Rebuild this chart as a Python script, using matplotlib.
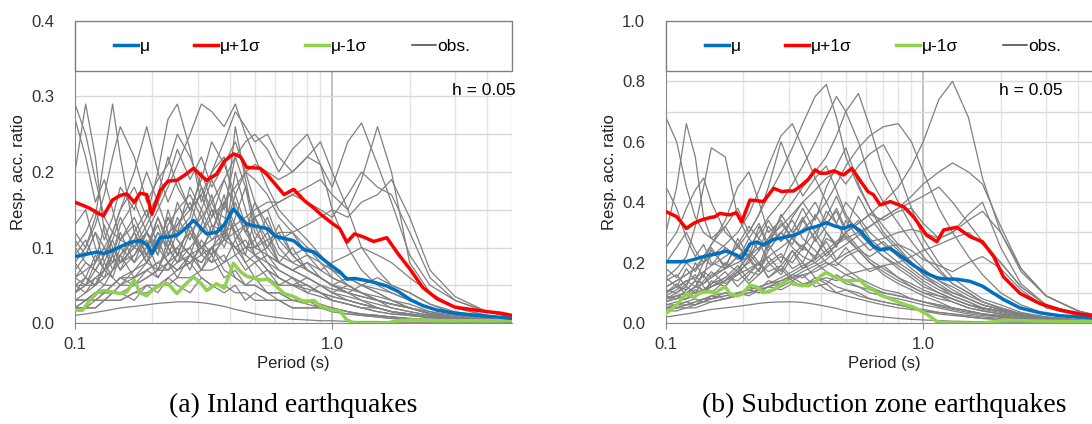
import matplotlib.pyplot as plt
from matplotlib.lines import Line2D
from matplotlib.patches import Rectangle
from matplotlib.ticker import FixedLocator, NullFormatter, MultipleLocator, FormatStrFormatter

plt.rcParams['font.family'] = ['Liberation Sans', 'DejaVu Sans']

# periods (s) for the observed records
t_obs = [0.10, 0.11, 0.12, 0.13, 0.14, 0.15, 0.17, 0.19, 0.21, 0.23, 0.25, 0.28, 0.31,
         0.34, 0.38, 0.42, 0.46, 0.50, 0.56, 0.62, 0.70, 0.80, 0.90, 1.0, 1.15, 1.3,
         1.5, 1.7, 2.0, 2.4, 3.0, 4.0, 5.0]

obs_a = [
    [0.29, 0.25, 0.19, 0.14, 0.12, 0.11, 0.10, 0.09, 0.10, 0.08, 0.07, 0.08, 0.06, 0.05, 0.05, 0.04, 0.04, 0.03, 0.03, 0.03, 0.02, 0.02, 0.02, 0.015, 0.012, 0.01, 0.008, 0.006, 0.005, 0.004, 0.003, 0.002, 0.002],
    [0.20, 0.29, 0.22, 0.12, 0.09, 0.13, 0.16, 0.12, 0.10, 0.14, 0.11, 0.09, 0.08, 0.10, 0.07, 0.06, 0.05, 0.06, 0.04, 0.04, 0.03, 0.03, 0.02, 0.02, 0.015, 0.012, 0.01, 0.008, 0.006, 0.005, 0.004, 0.003, 0.002],
    [0.12, 0.10, 0.14, 0.22, 0.29, 0.22, 0.12, 0.15, 0.10, 0.12, 0.09, 0.13, 0.10, 0.08, 0.09, 0.06, 0.05, 0.05, 0.04, 0.03, 0.03, 0.025, 0.02, 0.02, 0.015, 0.01, 0.01, 0.008, 0.006, 0.005, 0.004, 0.003, 0.002],
    [0.08, 0.10, 0.13, 0.17, 0.22, 0.26, 0.22, 0.16, 0.19, 0.21, 0.25, 0.22, 0.18, 0.15, 0.14, 0.12, 0.10, 0.11, 0.08, 0.07, 0.06, 0.05, 0.04, 0.035, 0.03, 0.025, 0.02, 0.015, 0.01, 0.008, 0.005, 0.003, 0.002],
    [0.06, 0.07, 0.08, 0.10, 0.12, 0.15, 0.20, 0.26, 0.20, 0.16, 0.19, 0.15, 0.17, 0.13, 0.12, 0.10, 0.11, 0.09, 0.08, 0.06, 0.05, 0.05, 0.04, 0.03, 0.025, 0.02, 0.015, 0.012, 0.01, 0.007, 0.005, 0.003, 0.002],
    [0.05, 0.05, 0.06, 0.07, 0.08, 0.09, 0.11, 0.14, 0.20, 0.27, 0.29, 0.23, 0.16, 0.20, 0.22, 0.15, 0.12, 0.10, 0.09, 0.08, 0.07, 0.06, 0.05, 0.04, 0.035, 0.03, 0.02, 0.015, 0.012, 0.008, 0.005, 0.003, 0.002],
    [0.04, 0.05, 0.05, 0.06, 0.07, 0.08, 0.10, 0.12, 0.15, 0.18, 0.21, 0.25, 0.29, 0.28, 0.26, 0.29, 0.25, 0.22, 0.18, 0.15, 0.13, 0.11, 0.09, 0.07, 0.05, 0.04, 0.03, 0.025, 0.02, 0.012, 0.008, 0.004, 0.003],
    [0.03, 0.03, 0.04, 0.04, 0.05, 0.06, 0.07, 0.08, 0.10, 0.12, 0.13, 0.15, 0.17, 0.20, 0.24, 0.28, 0.26, 0.24, 0.25, 0.22, 0.20, 0.22, 0.24, 0.20, 0.15, 0.10, 0.07, 0.05, 0.04, 0.025, 0.015, 0.008, 0.005],
    [0.03, 0.03, 0.03, 0.03, 0.04, 0.04, 0.05, 0.06, 0.07, 0.08, 0.09, 0.10, 0.12, 0.14, 0.16, 0.18, 0.20, 0.21, 0.20, 0.19, 0.20, 0.22, 0.21, 0.18, 0.24, 0.265, 0.21, 0.16, 0.09, 0.05, 0.03, 0.015, 0.008],
    [0.02, 0.02, 0.02, 0.03, 0.03, 0.03, 0.04, 0.05, 0.05, 0.06, 0.07, 0.08, 0.09, 0.10, 0.11, 0.12, 0.13, 0.14, 0.15, 0.16, 0.17, 0.18, 0.19, 0.17, 0.15, 0.19, 0.26, 0.20, 0.08, 0.04, 0.02, 0.01, 0.006],
    [0.03, 0.03, 0.03, 0.04, 0.04, 0.05, 0.05, 0.06, 0.07, 0.07, 0.08, 0.09, 0.10, 0.11, 0.12, 0.13, 0.14, 0.15, 0.16, 0.16, 0.17, 0.16, 0.15, 0.14, 0.17, 0.20, 0.18, 0.17, 0.12, 0.06, 0.03, 0.015, 0.008],
    [0.02, 0.02, 0.02, 0.03, 0.03, 0.03, 0.04, 0.04, 0.05, 0.05, 0.06, 0.06, 0.07, 0.07, 0.08, 0.09, 0.10, 0.10, 0.11, 0.12, 0.12, 0.13, 0.14, 0.15, 0.14, 0.16, 0.17, 0.19, 0.14, 0.07, 0.035, 0.015, 0.008],
    [0.10, 0.08, 0.07, 0.09, 0.11, 0.08, 0.10, 0.12, 0.09, 0.13, 0.15, 0.17, 0.14, 0.11, 0.13, 0.09, 0.07, 0.08, 0.06, 0.05, 0.05, 0.04, 0.035, 0.03, 0.025, 0.02, 0.015, 0.012, 0.01, 0.007, 0.005, 0.003, 0.002],
    [0.07, 0.09, 0.12, 0.10, 0.08, 0.11, 0.14, 0.10, 0.13, 0.09, 0.12, 0.14, 0.20, 0.16, 0.12, 0.17, 0.13, 0.10, 0.12, 0.08, 0.07, 0.06, 0.05, 0.04, 0.03, 0.025, 0.02, 0.015, 0.012, 0.008, 0.005, 0.003, 0.002],
    [0.04, 0.05, 0.07, 0.06, 0.09, 0.07, 0.11, 0.08, 0.12, 0.10, 0.14, 0.11, 0.15, 0.19, 0.15, 0.22, 0.18, 0.14, 0.15, 0.11, 0.09, 0.07, 0.06, 0.05, 0.04, 0.035, 0.03, 0.02, 0.015, 0.01, 0.006, 0.004, 0.002],
    [0.09, 0.11, 0.08, 0.13, 0.10, 0.08, 0.09, 0.11, 0.07, 0.10, 0.08, 0.12, 0.09, 0.13, 0.10, 0.14, 0.18, 0.12, 0.10, 0.13, 0.09, 0.07, 0.06, 0.05, 0.06, 0.05, 0.04, 0.03, 0.02, 0.012, 0.007, 0.004, 0.002],
    [0.03, 0.04, 0.05, 0.07, 0.06, 0.05, 0.07, 0.09, 0.06, 0.08, 0.10, 0.07, 0.11, 0.09, 0.16, 0.12, 0.09, 0.14, 0.11, 0.08, 0.10, 0.07, 0.06, 0.05, 0.045, 0.04, 0.035, 0.03, 0.02, 0.012, 0.007, 0.004, 0.002],
    [0.02, 0.02, 0.03, 0.03, 0.04, 0.04, 0.03, 0.05, 0.04, 0.06, 0.05, 0.04, 0.06, 0.05, 0.04, 0.05, 0.03, 0.04, 0.03, 0.03, 0.02, 0.02, 0.02, 0.015, 0.012, 0.01, 0.008, 0.006, 0.005, 0.004, 0.003, 0.002, 0.001],
    [0.01, 0.012, 0.014, 0.016, 0.018, 0.02, 0.022, 0.024, 0.026, 0.027, 0.028, 0.028, 0.027, 0.025, 0.022, 0.018, 0.015, 0.012, 0.009, 0.007, 0.005, 0.004, 0.003, 0.003, 0.002, 0.002, 0.002, 0.001, 0.001, 0.001, 0.001, 0.0, 0.0],
    [0.05, 0.04, 0.06, 0.05, 0.07, 0.09, 0.06, 0.08, 0.11, 0.08, 0.06, 0.09, 0.07, 0.10, 0.08, 0.11, 0.08, 0.06, 0.07, 0.05, 0.06, 0.04, 0.05, 0.04, 0.05, 0.04, 0.03, 0.025, 0.02, 0.015, 0.01, 0.005, 0.003],
    [0.13, 0.15, 0.10, 0.07, 0.09, 0.12, 0.08, 0.10, 0.14, 0.11, 0.16, 0.12, 0.10, 0.12, 0.17, 0.11, 0.13, 0.09, 0.10, 0.08, 0.07, 0.08, 0.06, 0.05, 0.04, 0.03, 0.025, 0.02, 0.015, 0.01, 0.006, 0.004, 0.002],
    [0.03, 0.03, 0.04, 0.05, 0.05, 0.06, 0.06, 0.07, 0.08, 0.07, 0.09, 0.08, 0.10, 0.09, 0.11, 0.10, 0.09, 0.08, 0.09, 0.08, 0.07, 0.08, 0.07, 0.08, 0.09, 0.10, 0.09, 0.08, 0.06, 0.04, 0.02, 0.01, 0.005],
    [0.02, 0.03, 0.03, 0.04, 0.04, 0.05, 0.06, 0.07, 0.08, 0.09, 0.10, 0.12, 0.14, 0.16, 0.19, 0.22, 0.24, 0.25, 0.23, 0.20, 0.23, 0.25, 0.21, 0.15, 0.10, 0.07, 0.05, 0.04, 0.03, 0.02, 0.012, 0.006, 0.003],
    [0.06, 0.08, 0.07, 0.09, 0.12, 0.15, 0.18, 0.14, 0.17, 0.22, 0.18, 0.15, 0.19, 0.24, 0.21, 0.17, 0.20, 0.16, 0.13, 0.11, 0.12, 0.09, 0.08, 0.06, 0.05, 0.04, 0.03, 0.025, 0.02, 0.012, 0.007, 0.004, 0.002],
    [0.27, 0.22, 0.16, 0.19, 0.15, 0.11, 0.13, 0.09, 0.12, 0.10, 0.08, 0.10, 0.07, 0.09, 0.06, 0.07, 0.05, 0.05, 0.04, 0.04, 0.03, 0.03, 0.025, 0.02, 0.015, 0.012, 0.01, 0.008, 0.006, 0.004, 0.003, 0.002, 0.001],
    [0.05, 0.06, 0.05, 0.07, 0.09, 0.07, 0.09, 0.12, 0.10, 0.14, 0.12, 0.18, 0.15, 0.12, 0.16, 0.13, 0.10, 0.09, 0.07, 0.06, 0.05, 0.045, 0.04, 0.035, 0.03, 0.025, 0.02, 0.015, 0.012, 0.008, 0.005, 0.003, 0.002],
    [0.11, 0.09, 0.12, 0.08, 0.11, 0.14, 0.10, 0.13, 0.16, 0.12, 0.09, 0.13, 0.18, 0.14, 0.19, 0.15, 0.12, 0.16, 0.12, 0.09, 0.08, 0.07, 0.06, 0.05, 0.04, 0.035, 0.03, 0.025, 0.02, 0.013, 0.008, 0.004, 0.002],
    [0.06, 0.05, 0.08, 0.10, 0.07, 0.10, 0.08, 0.12, 0.09, 0.15, 0.11, 0.09, 0.13, 0.17, 0.11, 0.20, 0.15, 0.11, 0.14, 0.10, 0.08, 0.09, 0.07, 0.06, 0.05, 0.04, 0.03, 0.025, 0.02, 0.012, 0.007, 0.004, 0.002],
    [0.04, 0.06, 0.05, 0.08, 0.06, 0.09, 0.12, 0.08, 0.07, 0.11, 0.09, 0.13, 0.09, 0.08, 0.12, 0.26, 0.19, 0.13, 0.09, 0.07, 0.06, 0.05, 0.04, 0.03, 0.025, 0.02, 0.02, 0.015, 0.012, 0.008, 0.005, 0.003, 0.002],
    [0.08, 0.06, 0.09, 0.07, 0.10, 0.08, 0.12, 0.09, 0.14, 0.10, 0.13, 0.16, 0.12, 0.15, 0.11, 0.16, 0.12, 0.14, 0.10, 0.12, 0.09, 0.10, 0.08, 0.07, 0.06, 0.05, 0.045, 0.04, 0.03, 0.02, 0.01, 0.005, 0.003],
    [0.02, 0.03, 0.04, 0.04, 0.05, 0.06, 0.05, 0.07, 0.06, 0.08, 0.07, 0.09, 0.08, 0.10, 0.12, 0.10, 0.08, 0.09, 0.07, 0.06, 0.05, 0.06, 0.05, 0.045, 0.04, 0.05, 0.06, 0.05, 0.04, 0.025, 0.012, 0.006, 0.003],
    [0.10, 0.12, 0.15, 0.11, 0.14, 0.18, 0.15, 0.20, 0.16, 0.19, 0.23, 0.19, 0.22, 0.18, 0.21, 0.24, 0.20, 0.19, 0.17, 0.14, 0.12, 0.10, 0.09, 0.07, 0.06, 0.05, 0.04, 0.03, 0.025, 0.015, 0.008, 0.004, 0.002],
]

# (b) subduction zone earthquakes, observed spectra
obs_b = [
    [0.68, 0.60, 0.45, 0.35, 0.30, 0.28, 0.25, 0.22, 0.24, 0.20, 0.17, 0.19, 0.15, 0.13, 0.14, 0.11, 0.10, 0.09, 0.08, 0.07, 0.06, 0.05, 0.045, 0.04, 0.03, 0.025, 0.02, 0.015, 0.012, 0.008, 0.005, 0.003, 0.002],
    [0.30, 0.45, 0.66, 0.55, 0.35, 0.28, 0.32, 0.25, 0.22, 0.27, 0.20, 0.23, 0.18, 0.20, 0.15, 0.14, 0.12, 0.11, 0.10, 0.08, 0.07, 0.06, 0.05, 0.045, 0.035, 0.03, 0.02, 0.015, 0.012, 0.008, 0.005, 0.003, 0.002],
    [0.15, 0.18, 0.22, 0.32, 0.45, 0.58, 0.55, 0.35, 0.28, 0.33, 0.26, 0.30, 0.25, 0.22, 0.20, 0.17, 0.15, 0.13, 0.12, 0.10, 0.09, 0.08, 0.07, 0.06, 0.05, 0.04, 0.03, 0.025, 0.02, 0.012, 0.008, 0.004, 0.002],
    [0.10, 0.12, 0.14, 0.15, 0.17, 0.19, 0.22, 0.25, 0.30, 0.36, 0.42, 0.50, 0.58, 0.66, 0.75, 0.79, 0.68, 0.55, 0.45, 0.38, 0.30, 0.25, 0.20, 0.16, 0.12, 0.09, 0.07, 0.05, 0.04, 0.025, 0.015, 0.008, 0.005],
    [0.08, 0.09, 0.10, 0.12, 0.13, 0.15, 0.18, 0.22, 0.25, 0.30, 0.35, 0.40, 0.46, 0.52, 0.60, 0.68, 0.75, 0.70, 0.60, 0.48, 0.40, 0.33, 0.27, 0.22, 0.17, 0.13, 0.10, 0.07, 0.05, 0.03, 0.02, 0.01, 0.006],
    [0.06, 0.07, 0.08, 0.09, 0.10, 0.12, 0.14, 0.17, 0.20, 0.24, 0.28, 0.35, 0.40, 0.45, 0.50, 0.55, 0.62, 0.70, 0.76, 0.65, 0.50, 0.40, 0.32, 0.25, 0.18, 0.13, 0.10, 0.07, 0.05, 0.03, 0.02, 0.01, 0.006],
    [0.05, 0.05, 0.06, 0.06, 0.07, 0.08, 0.09, 0.10, 0.11, 0.12, 0.13, 0.15, 0.17, 0.19, 0.21, 0.24, 0.27, 0.30, 0.33, 0.36, 0.40, 0.45, 0.52, 0.60, 0.74, 0.80, 0.68, 0.48, 0.30, 0.17, 0.09, 0.04, 0.02],
    [0.07, 0.08, 0.09, 0.10, 0.11, 0.12, 0.14, 0.16, 0.18, 0.20, 0.22, 0.25, 0.28, 0.31, 0.35, 0.40, 0.46, 0.52, 0.58, 0.62, 0.65, 0.66, 0.60, 0.50, 0.38, 0.30, 0.22, 0.16, 0.10, 0.06, 0.03, 0.015, 0.008],
    [0.04, 0.04, 0.05, 0.05, 0.06, 0.07, 0.08, 0.09, 0.10, 0.11, 0.12, 0.14, 0.16, 0.18, 0.20, 0.23, 0.26, 0.28, 0.30, 0.32, 0.35, 0.38, 0.42, 0.46, 0.50, 0.53, 0.50, 0.46, 0.32, 0.18, 0.09, 0.04, 0.02],
    [0.10, 0.12, 0.11, 0.14, 0.13, 0.16, 0.18, 0.20, 0.22, 0.25, 0.28, 0.32, 0.36, 0.40, 0.44, 0.48, 0.50, 0.46, 0.52, 0.56, 0.59, 0.50, 0.38, 0.28, 0.20, 0.15, 0.11, 0.08, 0.06, 0.035, 0.02, 0.01, 0.005],
    [0.12, 0.14, 0.16, 0.18, 0.20, 0.22, 0.26, 0.30, 0.36, 0.44, 0.52, 0.62, 0.66, 0.58, 0.48, 0.40, 0.33, 0.28, 0.24, 0.20, 0.16, 0.13, 0.11, 0.09, 0.07, 0.05, 0.04, 0.03, 0.02, 0.012, 0.007, 0.004, 0.002],
    [0.20, 0.25, 0.30, 0.24, 0.20, 0.26, 0.32, 0.38, 0.30, 0.36, 0.45, 0.60, 0.50, 0.42, 0.48, 0.52, 0.44, 0.36, 0.30, 0.26, 0.22, 0.18, 0.15, 0.12, 0.10, 0.08, 0.06, 0.045, 0.035, 0.02, 0.012, 0.006, 0.003],
    [0.18, 0.15, 0.20, 0.17, 0.22, 0.19, 0.25, 0.21, 0.28, 0.24, 0.32, 0.27, 0.35, 0.40, 0.34, 0.45, 0.52, 0.58, 0.46, 0.38, 0.32, 0.26, 0.22, 0.18, 0.14, 0.11, 0.08, 0.06, 0.045, 0.03, 0.018, 0.008, 0.004],
    [0.10, 0.13, 0.09, 0.12, 0.16, 0.12, 0.15, 0.19, 0.14, 0.18, 0.22, 0.17, 0.24, 0.20, 0.28, 0.22, 0.26, 0.30, 0.25, 0.21, 0.18, 0.15, 0.12, 0.10, 0.09, 0.07, 0.05, 0.04, 0.03, 0.02, 0.012, 0.006, 0.003],
    [0.08, 0.10, 0.12, 0.10, 0.14, 0.17, 0.13, 0.16, 0.21, 0.17, 0.24, 0.30, 0.26, 0.34, 0.28, 0.37, 0.33, 0.40, 0.35, 0.30, 0.26, 0.22, 0.20, 0.17, 0.14, 0.12, 0.09, 0.07, 0.05, 0.03, 0.018, 0.008, 0.004],
    [0.05, 0.06, 0.07, 0.06, 0.08, 0.09, 0.08, 0.10, 0.09, 0.11, 0.10, 0.12, 0.14, 0.12, 0.15, 0.13, 0.16, 0.14, 0.12, 0.11, 0.10, 0.09, 0.08, 0.07, 0.06, 0.05, 0.04, 0.03, 0.025, 0.015, 0.01, 0.005, 0.003],
    [0.02, 0.025, 0.03, 0.035, 0.04, 0.045, 0.05, 0.055, 0.06, 0.065, 0.068, 0.07, 0.07, 0.068, 0.062, 0.055, 0.048, 0.04, 0.032, 0.025, 0.02, 0.015, 0.012, 0.01, 0.008, 0.006, 0.005, 0.004, 0.003, 0.002, 0.001, 0.001, 0.0],
    [0.06, 0.06, 0.07, 0.08, 0.07, 0.09, 0.10, 0.09, 0.11, 0.10, 0.12, 0.11, 0.13, 0.12, 0.14, 0.15, 0.14, 0.16, 0.17, 0.18, 0.19, 0.20, 0.22, 0.24, 0.26, 0.28, 0.30, 0.26, 0.20, 0.12, 0.06, 0.03, 0.015],
    [0.04, 0.05, 0.05, 0.06, 0.07, 0.07, 0.08, 0.09, 0.10, 0.11, 0.12, 0.13, 0.15, 0.17, 0.19, 0.21, 0.24, 0.26, 0.29, 0.32, 0.35, 0.38, 0.40, 0.42, 0.45, 0.40, 0.33, 0.27, 0.20, 0.12, 0.06, 0.03, 0.015],
    [0.08, 0.09, 0.10, 0.12, 0.11, 0.13, 0.15, 0.14, 0.17, 0.16, 0.19, 0.22, 0.20, 0.25, 0.22, 0.28, 0.26, 0.30, 0.33, 0.36, 0.34, 0.37, 0.38, 0.33, 0.28, 0.30, 0.36, 0.40, 0.25, 0.13, 0.06, 0.03, 0.015],
    [0.14, 0.16, 0.12, 0.20, 0.15, 0.25, 0.18, 0.28, 0.22, 0.32, 0.25, 0.36, 0.30, 0.34, 0.40, 0.33, 0.37, 0.30, 0.34, 0.28, 0.24, 0.20, 0.17, 0.14, 0.11, 0.09, 0.07, 0.05, 0.04, 0.025, 0.015, 0.008, 0.004],
    [0.09, 0.08, 0.11, 0.14, 0.10, 0.13, 0.17, 0.12, 0.16, 0.20, 0.15, 0.19, 0.24, 0.18, 0.22, 0.27, 0.21, 0.25, 0.20, 0.17, 0.19, 0.15, 0.13, 0.11, 0.09, 0.08, 0.06, 0.05, 0.04, 0.025, 0.015, 0.008, 0.004],
    [0.45, 0.38, 0.28, 0.22, 0.26, 0.20, 0.18, 0.22, 0.17, 0.20, 0.15, 0.18, 0.14, 0.16, 0.12, 0.13, 0.10, 0.11, 0.09, 0.08, 0.07, 0.06, 0.05, 0.04, 0.035, 0.03, 0.025, 0.02, 0.015, 0.01, 0.006, 0.003, 0.002],
    [0.12, 0.14, 0.16, 0.18, 0.22, 0.26, 0.34, 0.45, 0.50, 0.40, 0.30, 0.34, 0.28, 0.25, 0.30, 0.24, 0.20, 0.18, 0.15, 0.13, 0.11, 0.10, 0.08, 0.07, 0.06, 0.05, 0.04, 0.03, 0.025, 0.015, 0.01, 0.005, 0.003],
    [0.25, 0.30, 0.38, 0.44, 0.48, 0.40, 0.30, 0.26, 0.32, 0.28, 0.24, 0.30, 0.34, 0.28, 0.24, 0.20, 0.18, 0.16, 0.14, 0.12, 0.10, 0.09, 0.08, 0.07, 0.055, 0.045, 0.035, 0.03, 0.02, 0.012, 0.008, 0.004, 0.002],
    [0.05, 0.05, 0.06, 0.07, 0.08, 0.08, 0.09, 0.10, 0.11, 0.12, 0.13, 0.14, 0.15, 0.16, 0.17, 0.19, 0.21, 0.23, 0.25, 0.27, 0.28, 0.30, 0.31, 0.30, 0.28, 0.30, 0.34, 0.37, 0.30, 0.18, 0.09, 0.04, 0.02],
    [0.15, 0.12, 0.18, 0.14, 0.20, 0.24, 0.19, 0.26, 0.21, 0.28, 0.34, 0.27, 0.31, 0.38, 0.30, 0.35, 0.42, 0.35, 0.30, 0.26, 0.22, 0.19, 0.16, 0.13, 0.10, 0.08, 0.06, 0.05, 0.04, 0.025, 0.015, 0.008, 0.004],
    [0.07, 0.09, 0.08, 0.11, 0.10, 0.14, 0.12, 0.17, 0.13, 0.16, 0.20, 0.16, 0.22, 0.26, 0.21, 0.30, 0.25, 0.34, 0.28, 0.24, 0.27, 0.22, 0.18, 0.15, 0.12, 0.10, 0.08, 0.06, 0.045, 0.03, 0.018, 0.008, 0.004],
    [0.11, 0.10, 0.13, 0.16, 0.12, 0.10, 0.14, 0.18, 0.22, 0.17, 0.26, 0.20, 0.29, 0.35, 0.27, 0.32, 0.38, 0.31, 0.42, 0.35, 0.29, 0.24, 0.20, 0.16, 0.13, 0.10, 0.08, 0.06, 0.045, 0.03, 0.018, 0.008, 0.004],
    [0.05, 0.06, 0.06, 0.07, 0.08, 0.08, 0.10, 0.09, 0.12, 0.11, 0.14, 0.13, 0.16, 0.15, 0.18, 0.20, 0.19, 0.22, 0.24, 0.22, 0.25, 0.26, 0.24, 0.21, 0.19, 0.17, 0.20, 0.22, 0.18, 0.11, 0.05, 0.025, 0.012],
    [0.09, 0.11, 0.14, 0.12, 0.17, 0.15, 0.20, 0.17, 0.23, 0.19, 0.27, 0.33, 0.28, 0.24, 0.36, 0.30, 0.26, 0.29, 0.24, 0.20, 0.17, 0.14, 0.12, 0.10, 0.08, 0.07, 0.05, 0.04, 0.03, 0.02, 0.012, 0.006, 0.003],
]

# statistics, panel (a)
t_stat_a = [0.100, 0.107, 0.114, 0.122, 0.129, 0.140, 0.150, 0.159, 0.170, 0.179, 0.190, 0.199,
            0.214, 0.230, 0.249, 0.270, 0.289, 0.310, 0.325, 0.355, 0.380, 0.413, 0.440, 0.465,
            0.524, 0.560, 0.600, 0.650, 0.708, 0.780, 0.850, 0.902, 1.00, 1.07, 1.14, 1.22,
            1.32, 1.45, 1.63, 1.80, 2.01, 2.25, 2.56, 3.00, 3.45, 4.00, 4.53, 5.00]
mu_a = [0.088, 0.090, 0.092, 0.094, 0.092, 0.096, 0.101, 0.105, 0.108, 0.109, 0.104, 0.092,
        0.113, 0.114, 0.116, 0.126, 0.136, 0.125, 0.118, 0.120, 0.130, 0.151, 0.140, 0.131,
        0.127, 0.125, 0.115, 0.112, 0.109, 0.097, 0.094, 0.087, 0.075, 0.068, 0.058, 0.059,
        0.057, 0.054, 0.049, 0.042, 0.031, 0.023, 0.017, 0.013, 0.011, 0.009, 0.0075, 0.006]
mu_p_a = [0.160, 0.156, 0.152, 0.146, 0.142, 0.163, 0.169, 0.171, 0.160, 0.172, 0.170, 0.144,
          0.175, 0.188, 0.189, 0.197, 0.205, 0.195, 0.189, 0.197, 0.214, 0.224, 0.220, 0.206,
          0.205, 0.196, 0.184, 0.170, 0.177, 0.162, 0.152, 0.144, 0.132, 0.125, 0.107, 0.118,
          0.114, 0.108, 0.113, 0.092, 0.071, 0.047, 0.032, 0.021, 0.018, 0.015, 0.013, 0.010]
mu_m_a = [0.017, 0.017, 0.030, 0.040, 0.043, 0.041, 0.039, 0.041, 0.057, 0.040, 0.036, 0.043,
          0.050, 0.052, 0.039, 0.052, 0.061, 0.052, 0.043, 0.052, 0.046, 0.079, 0.068, 0.062,
          0.057, 0.058, 0.050, 0.039, 0.035, 0.028, 0.030, 0.022, 0.017, 0.016, 0.004, 0.0,
          0.0, 0.0, 0.0, 0.003, 0.004, 0.004, 0.003, 0.003, 0.003, 0.003, 0.003, 0.003]

# statistics, panel (b)
t_stat_b = [0.100, 0.110, 0.120, 0.128, 0.136, 0.148, 0.155, 0.162, 0.170, 0.177, 0.188, 0.197,
            0.212, 0.225, 0.239, 0.262, 0.282, 0.295, 0.313, 0.330, 0.357, 0.380, 0.398, 0.420,
            0.450, 0.490, 0.528, 0.570, 0.610, 0.640, 0.680, 0.745, 0.840, 0.920, 1.03, 1.13,
            1.20, 1.35, 1.52, 1.70, 1.88, 2.05, 2.38, 2.83, 3.40, 4.20, 5.00]
mu_b = [0.203, 0.203, 0.204, 0.210, 0.217, 0.225, 0.228, 0.232, 0.238, 0.234, 0.225, 0.214,
        0.262, 0.268, 0.258, 0.277, 0.282, 0.286, 0.290, 0.298, 0.313, 0.318, 0.324, 0.332,
        0.322, 0.313, 0.324, 0.305, 0.275, 0.255, 0.242, 0.247, 0.215, 0.190, 0.164, 0.150,
        0.146, 0.145, 0.138, 0.122, 0.098, 0.078, 0.050, 0.034, 0.024, 0.019, 0.015]
mu_p_b = [0.369, 0.352, 0.313, 0.330, 0.340, 0.349, 0.352, 0.363, 0.360, 0.358, 0.365, 0.335,
          0.407, 0.405, 0.402, 0.446, 0.435, 0.437, 0.437, 0.450, 0.475, 0.507, 0.496, 0.496,
          0.504, 0.490, 0.512, 0.470, 0.435, 0.425, 0.391, 0.402, 0.385, 0.350, 0.291, 0.269,
          0.308, 0.317, 0.286, 0.269, 0.220, 0.153, 0.098, 0.065, 0.043, 0.028, 0.022]
mu_m_b = [0.032, 0.060, 0.098, 0.085, 0.100, 0.105, 0.098, 0.110, 0.120, 0.098, 0.090, 0.095,
          0.125, 0.120, 0.100, 0.110, 0.130, 0.140, 0.128, 0.126, 0.123, 0.135, 0.155, 0.167,
          0.153, 0.140, 0.140, 0.142, 0.115, 0.110, 0.093, 0.080, 0.062, 0.052, 0.030, 0.005,
          0.0, 0.0, 0.0, 0.0, 0.004, 0.010, 0.008, 0.006, 0.005, 0.005, 0.005]

BLUE = '#0070C0'
RED = '#FF0000'
GREEN = '#92D050'
GREY = '#808080'


def draw_panel(ax, obs, t_stat, mu, mu_p, mu_m, ymax, ylab_step, ygrid_step, h_x, caption):
    for y in obs:
        ax.plot(t_obs, y, color=GREY, lw=0.9, zorder=2)
    ax.plot(t_stat, mu_m, color=GREEN, lw=2.5, zorder=3)
    ax.plot(t_stat, mu, color=BLUE, lw=2.5, zorder=3)
    ax.plot(t_stat, mu_p, color=RED, lw=2.5, zorder=3)

    ax.set_xscale('log')
    ax.set_xlim(0.1, 5.0)
    ax.set_ylim(0, ymax)
    ax.xaxis.set_major_locator(FixedLocator([0.1, 1.0]))
    ax.xaxis.set_major_formatter(FormatStrFormatter('%.1f'))
    ax.xaxis.set_minor_locator(FixedLocator([0.2, 0.3, 0.4, 0.5, 0.6, 0.7, 0.8, 0.9, 2, 3, 4, 5]))
    ax.xaxis.set_minor_formatter(NullFormatter())
    ax.yaxis.set_major_locator(MultipleLocator(ylab_step))
    ax.yaxis.set_minor_locator(MultipleLocator(ygrid_step))
    ax.yaxis.set_major_formatter(FormatStrFormatter('%.1f'))

    ax.grid(which='both', axis='y', color='#d9d9d9', lw=1, zorder=0)
    ax.grid(which='minor', axis='x', color='#e4e4e4', lw=1, zorder=0)
    ax.grid(which='major', axis='x', color='#bdbdbd', lw=1.3, zorder=0)
    ax.set_axisbelow(True)

    ax.tick_params(axis='y', which='both', length=0, pad=15, labelsize=12, labelcolor='#333333')
    ax.tick_params(axis='x', which='major', length=4, color='#888888', pad=6,
                   labelsize=12, labelcolor='#333333')
    ax.tick_params(axis='x', which='minor', length=0)
    for s in ['top', 'right']:
        ax.spines[s].set_visible(False)
    for s in ['left', 'bottom']:
        ax.spines[s].set_color('#888888')

    ax.set_ylabel('Resp. acc. ratio', fontsize=12, color='#222222')
    ax.yaxis.set_label_coords(-0.112, 0.5)
    ax.set_xlabel('Period (s)', fontsize=12, color='#222222')
    ax.xaxis.set_label_coords(0.5, -0.108)

    # legend box across the top of the plot area
    y0 = 0.834
    ax.add_patch(Rectangle((0, y0), 1, 1 - y0, transform=ax.transAxes, facecolor='white',
                           edgecolor='#808080', lw=1, zorder=4, clip_on=False))
    handles = [Line2D([], [], color=BLUE, lw=2.5, label='μ'),
               Line2D([], [], color=RED, lw=2.5, label='μ+1σ'),
               Line2D([], [], color=GREEN, lw=2.5, label='μ-1σ'),
               Line2D([], [], color='#404040', lw=1.1, label='obs.')]
    leg = ax.legend(handles=handles, loc='center', bbox_to_anchor=(0.497, (1 + y0) / 2),
                    ncol=4, frameon=False, fontsize=12.5, handlelength=1.4,
                    handletextpad=0.1, columnspacing=2.55)
    leg.set_zorder(5)

    ax.text(h_x, 0.771, 'h = 0.05', transform=ax.transAxes, ha='right', va='center',
            fontsize=12.5, zorder=5)
    ax.figure.text((ax.get_position().x0 + ax.get_position().x1) / 2, 1 - 405 / 424, caption,
                   ha='center', va='center', fontsize=20, family='Liberation Serif')


fig = plt.figure(figsize=(10.92, 4.24), dpi=100)
ax_a = fig.add_axes([75 / 1092, 101 / 424, 437 / 1092, 302 / 424])
ax_b = fig.add_axes([666 / 1092, 101 / 424, 437 / 1092, 302 / 424])

draw_panel(ax_a, obs_a, t_stat_a, mu_a, mu_p_a, mu_m_a, 0.4, 0.1, 0.05, 1.009,
           '(a) Inland earthquakes')
draw_panel(ax_b, obs_b, t_stat_b, mu_b, mu_p_b, mu_m_b, 1.0, 0.2, 0.1, 0.908,
           '(b) Subduction zone earthquakes')

fig.savefig('out.png', dpi=100)
